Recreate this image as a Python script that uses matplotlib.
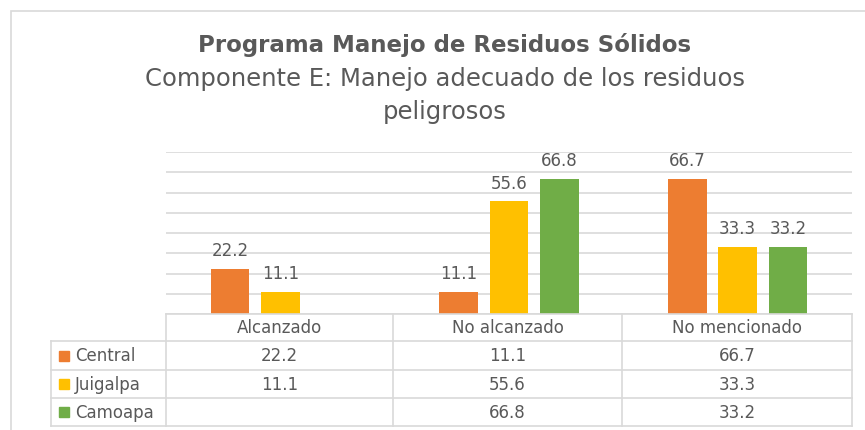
import numpy as np
import matplotlib.pyplot as plt
from matplotlib.patches import Rectangle
from matplotlib.lines import Line2D

# datos
categorias = ['Alcanzado', 'No alcanzado', 'No mencionado']
series = ['Central', 'Juigalpa', 'Camoapa']
central = [22.2, 11.1, 66.7]
juigalpa = [11.1, 55.6, 33.3]
camoapa = [None, 66.8, 33.2]
colores = ['#ED7D31', '#FFC000', '#70AD47']

valores = [central, juigalpa, camoapa]
gris_txt = '#595959'
gris_lin = '#D9D9D9'
fuente = 'DejaVu Sans'

W, H = 865, 431
fig = plt.figure(figsize=(W / 100, H / 100), dpi=100)

def fx(px):
    return px / W

def fy(py):
    return 1 - py / H

# marco del grafico
fig.patches.append(Rectangle((fx(11), fy(470)), 1.2, fy(12) - fy(470),
                             transform=fig.transFigure, fill=False,
                             edgecolor=gris_lin, lw=1.2))

# titulo
fig.text(fx(445), fy(45), 'Programa Manejo de Residuos Sólidos', ha='center', va='center',
         fontsize=16.5, fontweight='bold', color=gris_txt, family=fuente)
fig.text(fx(445), fy(79), 'Componente E: Manejo adecuado de los residuos', ha='center',
         va='center', fontsize=17.5, color=gris_txt, family=fuente)
fig.text(fx(445), fy(112), 'peligrosos', ha='center', va='center',
         fontsize=17.5, color=gris_txt, family=fuente)

# area del grafico
x0, x1, ytop, ybase = 166, 852, 153, 315
ax = fig.add_axes([fx(x0), fy(ybase), fx(x1) - fx(x0), fy(ytop) - fy(ybase)])
x = np.arange(len(categorias))
ancho = 0.17
desp = [-0.22, 0, 0.22]
for i, (nombre, vals) in enumerate(zip(series, valores)):
    xs = [xi + desp[i] for xi, v in zip(x, vals) if v is not None]
    ys = [v for v in vals if v is not None]
    ax.bar(xs, ys, width=ancho, color=colores[i], zorder=3)
    for xb, yb in zip(xs, ys):
        ax.annotate(f'{yb:.1f}', (xb, yb), xytext=(0, 10), textcoords='offset points',
                    ha='center', va='baseline', fontsize=12, color=gris_txt, family=fuente)

ax.set_xlim(-0.5, 2.5)
ax.set_ylim(0, 80)
ax.set_yticks(np.arange(0, 81, 10))
ax.yaxis.grid(True, color=gris_lin, lw=1.2, zorder=0)
ax.tick_params(left=False, bottom=False, labelleft=False, labelbottom=False)
for s in ax.spines.values():
    s.set_visible(False)

# tabla de datos
filas_y = [315, 342, 371, 399, 427]
cols_x = [166, 393, 622, 852]
xl = 51

def linea(xa, xb, ya, yb):
    fig.add_artist(Line2D([fx(xa), fx(xb)], [fy(ya), fy(yb)], transform=fig.transFigure,
                          color=gris_lin, lw=1.2))

linea(cols_x[0], cols_x[-1], filas_y[0], filas_y[0])
for yy in filas_y[1:]:
    linea(xl, cols_x[-1], yy, yy)
for cx in cols_x:
    linea(cx, cx, filas_y[0], filas_y[-1])
linea(xl, xl, filas_y[1], filas_y[-1])

for j, cat in enumerate(categorias):
    cxm = (cols_x[j] + cols_x[j + 1]) / 2
    fig.text(fx(cxm), fy((filas_y[0] + filas_y[1]) / 2), cat, ha='center', va='center',
             fontsize=12, color=gris_txt, family=fuente)

for i, (nombre, vals) in enumerate(zip(series, valores)):
    ym = (filas_y[i + 1] + filas_y[i + 2]) / 2
    fig.patches.append(Rectangle((fx(59), fy(ym + 5)), fx(10), fy(ym - 5) - fy(ym + 5),
                                 transform=fig.transFigure, color=colores[i]))
    fig.text(fx(75), fy(ym), nombre, ha='left', va='center', fontsize=12,
             color=gris_txt, family=fuente)
    for j, v in enumerate(vals):
        if v is None:
            continue
        cxm = (cols_x[j] + cols_x[j + 1]) / 2
        fig.text(fx(cxm), fy(ym), f'{v:.1f}', ha='center', va='center', fontsize=12,
                 color=gris_txt, family=fuente)

fig.savefig('out.png', dpi=100)
